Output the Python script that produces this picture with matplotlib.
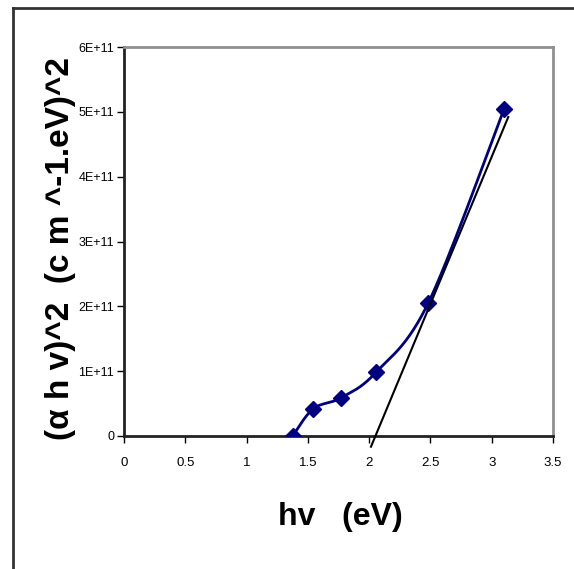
import numpy as np
import matplotlib.pyplot as plt
from matplotlib.lines import Line2D

# photon energy (eV) and (alpha h v)^2 values
hv = [1.376, 1.544, 1.773, 2.055, 2.482, 3.102]
ahv2 = [0.0, 0.42e11, 0.59e11, 0.98e11, 2.05e11, 5.05e11]

# straight-line fit drawn over the linear part
fit_x = [2.015, 3.135]
fit_y = [-0.165e11, 4.92e11]

xticks = [0, 0.5, 1, 1.5, 2, 2.5, 3, 3.5]
xtick_labels = ['0', '0.5', '1', '1.5', '2', '2.5', '3', '3.5']
yticks = [0, 1e11, 2e11, 3e11, 4e11, 5e11, 6e11]
ytick_labels = ['0', '1E+11', '2E+11', '3E+11', '4E+11', '5E+11', '6E+11']


# Excel-like smoothed line (cardinal spline through points)
def smooth(x, y, n=30):
    x = np.asarray(x, float)
    y = np.asarray(y, float)
    px = np.concatenate([[x[0]], x, [x[-1]]])
    py = np.concatenate([[y[0]], y, [y[-1]]])
    xs, ys = [], []
    t = np.linspace(0, 1, n)
    for i in range(1, len(px) - 2):
        p0 = np.array([px[i], py[i]])
        p3 = np.array([px[i + 1], py[i + 1]])
        c1 = p0 + (p3 - np.array([px[i - 1], py[i - 1]])) / 6
        c2 = p3 - (np.array([px[i + 2], py[i + 2]]) - p0) / 6
        b = ((1 - t) ** 3)[:, None] * p0 + (3 * (1 - t) ** 2 * t)[:, None] * c1 \
            + (3 * (1 - t) * t ** 2)[:, None] * c2 + (t ** 3)[:, None] * p3
        xs.extend(b[:, 0])
        ys.extend(b[:, 1])
    return xs, ys


fonts = ['Liberation Sans', 'DejaVu Sans']
plt.rcParams['font.family'] = fonts

fig = plt.figure(figsize=(5.74, 5.69), dpi=100)
ax = fig.add_axes([124 / 574, 1 - 436 / 569, 429 / 574, 389 / 569])

sx, sy = smooth(hv, ahv2)
ax.plot(sx, sy, color='#000080', lw=2, zorder=3)
ax.plot(hv, ahv2, linestyle='none', marker='D', ms=8, color='#000080', zorder=4)
ax.plot(fit_x, fit_y, color='black', lw=1.5, zorder=5, clip_on=False)

ax.set_xlim(0, 3.5)
ax.set_ylim(0, 6e11)
ax.set_xticks(xticks)
ax.set_xticklabels(xtick_labels, fontsize=9.5)
ax.set_yticks(yticks)
ax.set_yticklabels(ytick_labels, fontsize=9)
ax.tick_params(axis='x', direction='out', length=5, width=1, pad=10)
ax.tick_params(axis='y', direction='out', length=5, width=1, pad=2)
for s in ['left', 'bottom']:
    ax.spines[s].set_linewidth(2)
    ax.spines[s].set_color('#222222')
for s in ['top', 'right']:
    ax.spines[s].set_linewidth(2)
    ax.spines[s].set_color('#909090')

fig.text(340 / 574, 1 - 517 / 569, 'hv   (eV)', fontsize=23, fontweight='bold',
         ha='center', va='center')
fig.text(61 / 574, 1 - 248 / 569, '(\u03b1 h v)^2  (c m ^-1.eV)^2', fontsize=24,
         fontweight='bold', rotation=90, ha='center', va='center')

# outer frame: top and left edges
fig.add_artist(Line2D([13 / 574, 1], [1 - 8 / 569, 1 - 8 / 569], color='#333333', lw=2))
fig.add_artist(Line2D([13 / 574, 13 / 574], [1 - 8 / 569, 0], color='#333333', lw=2))

fig.savefig('out.png', dpi=100)
